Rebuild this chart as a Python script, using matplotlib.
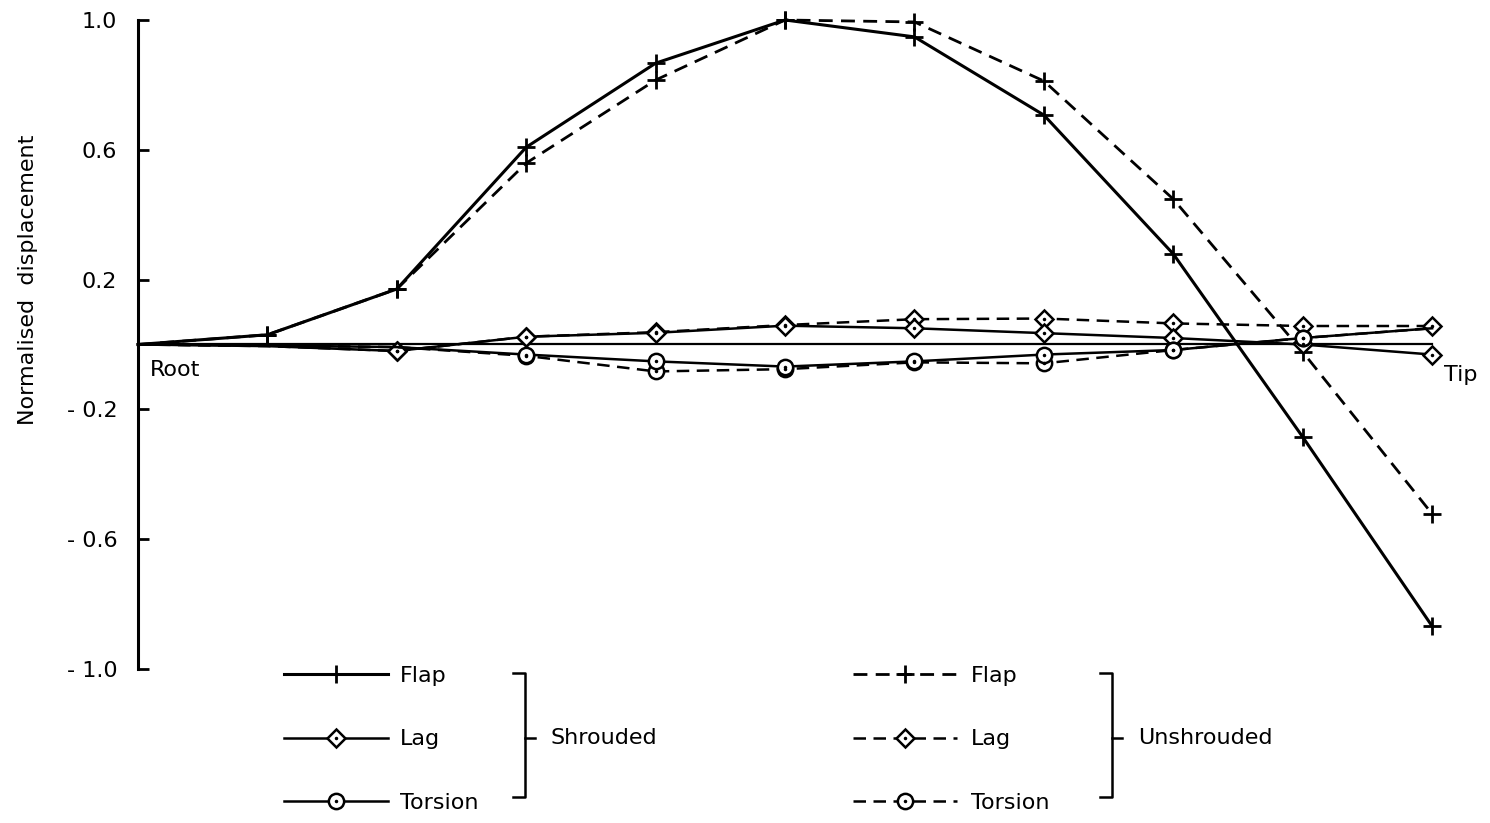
import numpy as np
import matplotlib.pyplot as plt
from matplotlib.lines import Line2D
from matplotlib.legend_handler import HandlerTuple

# blade stations, root (0) to tip (10)
stations = np.arange(11)

flap_shrouded = [0.0, 0.03, 0.171, 0.608, 0.867, 1.0, 0.948, 0.707, 0.279, -0.285, -0.868]
flap_unshrouded = [0.0, 0.03, 0.171, 0.559, 0.815, 1.0, 0.994, 0.812, 0.448, -0.023, -0.522]
lag_shrouded = [0.0, -0.005, -0.02, 0.024, 0.036, 0.058, 0.05, 0.035, 0.02, 0.0, -0.031]
lag_unshrouded = [0.0, -0.005, -0.02, 0.024, 0.038, 0.06, 0.078, 0.08, 0.065, 0.057, 0.057]
tors_shrouded = [0.0, -0.003, -0.008, -0.031, -0.052, -0.068, -0.052, -0.031, -0.017, 0.02, 0.05]
tors_unshrouded = [0.0, -0.003, -0.008, -0.035, -0.083, -0.076, -0.055, -0.058, -0.017, 0.02, 0.05]

yticks = [1.0, 0.6, 0.2, -0.2, -0.6, -1.0]
yticklabels = ['1.0', '0.6', '0.2', '- 0.2', '- 0.6', '- 1.0']

plt.rcParams['font.family'] = 'DejaVu Sans'
fs = 16
dash = (0, (5, 3))

fig = plt.figure(figsize=(14.9, 8.23), dpi=100)
ax = fig.add_axes([138/1490, 1-669/823, 1342/1490, 649/823])

ax.axhline(0, xmin=0, xmax=10/10.37, color='black', lw=1.6)

flap_kw = dict(color='black', marker='+', markersize=13, mew=2, clip_on=False)
lag_kw = dict(color='black', marker='D', markersize=9, mew=1.8, mfc='white', clip_on=False)
tor_kw = dict(color='black', marker='o', markersize=11, mew=1.8, mfc='white', clip_on=False)
dot_kw = dict(color='black', marker='.', markersize=3, linestyle='none', clip_on=False)

h_fs, = ax.plot(stations, flap_shrouded, lw=2.2, markevery=slice(1, None), **flap_kw)
h_fu, = ax.plot(stations, flap_unshrouded, lw=2.0, linestyle=dash, markevery=slice(1, None), **flap_kw)
h_lu, = ax.plot(stations, lag_unshrouded, lw=1.8, linestyle=dash, markevery=slice(2, None), **lag_kw)
h_ls, = ax.plot(stations, lag_shrouded, lw=1.8, markevery=slice(2, None), **lag_kw)
h_tu, = ax.plot(stations, tors_unshrouded, lw=1.8, linestyle=dash, markevery=slice(3, 10), **tor_kw)
h_ts, = ax.plot(stations, tors_shrouded, lw=1.8, markevery=slice(3, 10), **tor_kw)
ax.plot(stations[2:], lag_unshrouded[2:], **dot_kw)
ax.plot(stations[2:], lag_shrouded[2:], **dot_kw)
ax.plot(stations[3:10], tors_unshrouded[3:10], **dot_kw)
ax.plot(stations[3:10], tors_shrouded[3:10], **dot_kw)

ax.set_xlim(0, 10.37)
ax.set_ylim(-1, 1)
ax.set_yticks(yticks)
ax.set_yticklabels(yticklabels, fontsize=fs)
ax.set_xticks([])
for s in ['top', 'right', 'bottom']:
    ax.spines[s].set_visible(False)
ax.spines['left'].set_linewidth(2.2)
ax.tick_params(axis='y', direction='in', length=8, width=2, pad=15)

ax.text(0.09, -0.079, 'Root', fontsize=fs, va='center', ha='left')
ax.text(10.09, -0.094, 'Tip', fontsize=fs, va='center', ha='left')
fig.text(28/1490, 1-280/823, 'Normalised  displacement', fontsize=fs, rotation=90,
         ha='center', va='center')

# legends
def dotted(h):
    d = Line2D([], [], **dot_kw)
    return (h, d)

hmap = {tuple: HandlerTuple(ndivide=1)}
fig.legend(handles=[h_fs, dotted(h_ls), dotted(h_ts)], labels=['Flap', 'Lag', 'Torsion'],
           loc='upper left', bbox_to_anchor=(264/1490, 1-646/823), frameon=False,
           fontsize=fs, handlelength=4.7, handletextpad=0.5, labelspacing=1.95,
           numpoints=1, handler_map=hmap)
fig.legend(handles=[h_fu, dotted(h_lu), dotted(h_tu)], labels=['Flap', 'Lag', 'Torsion'],
           loc='upper left', bbox_to_anchor=(833/1490, 1-646/823), frameon=False,
           fontsize=fs, handlelength=4.7, handletextpad=0.6, labelspacing=1.95,
           numpoints=1, handler_map=hmap)

# brackets
X = lambda p: p/1490
Y = lambda p: 1-p/823
for bx, label in [(525, 'Shrouded'), (1112, 'Unshrouded')]:
    fig.add_artist(Line2D([X(bx-12), X(bx), X(bx), X(bx-12)], [Y(673), Y(673), Y(797), Y(797)],
                          color='black', lw=1.8))
    fig.add_artist(Line2D([X(bx), X(bx+10)], [Y(738), Y(738)], color='black', lw=1.8))
    fig.text(X(bx+26), Y(738), label, fontsize=fs, va='center', ha='left')

plt.savefig('out.png')
